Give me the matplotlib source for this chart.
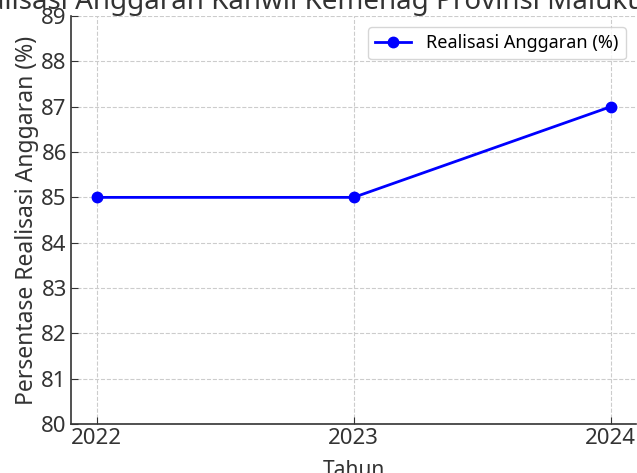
import matplotlib
matplotlib.use("Agg")
import matplotlib.pyplot as plt

plt.rcParams['font.family'] = ['Noto Sans', 'DejaVu Sans']

tahun = [2022, 2023, 2024]
realisasi = [85, 85, 87]
yticks = list(range(80, 90))

fig = plt.figure(figsize=(6.37, 4.73), dpi=100)
ax = fig.add_axes([0.1115, 0.1036, 0.8875, 0.8624])

ax.plot(tahun, realisasi, color='blue', marker='o', linewidth=2, markersize=7.5,
        label='Realisasi Anggaran (%)')

# judul terpotong di tepi gambar seperti referensi
ax.set_title("Realisasi Anggaran Kanwil Kemenag Provinsi Maluku", fontsize=20,
             color='#333333', pad=3, x=0.405)
ax.set_xlabel("Tahun", fontsize=15, color='#333333', labelpad=8)
ax.set_ylabel("Persentase Realisasi Anggaran (%)", fontsize=16.5, color='#333333', labelpad=2)

ax.set_xticks(tahun)
ax.set_yticks(yticks)
ax.set_ylim(80, 89)
ax.tick_params(direction='in', length=5, labelsize=16, colors='#333333', pad=3)
ax.grid(True, linestyle='--', color='#cccccc', linewidth=0.8)

for side in ['top', 'right']:
    ax.spines[side].set_visible(False)
for side in ['left', 'bottom']:
    ax.spines[side].set_color('#333333')
    ax.spines[side].set_linewidth(1.2)

ax.legend(loc='upper right', fontsize=13, frameon=True, edgecolor='#cccccc',
          borderaxespad=0.6)

fig.savefig("out.png", dpi=100)
